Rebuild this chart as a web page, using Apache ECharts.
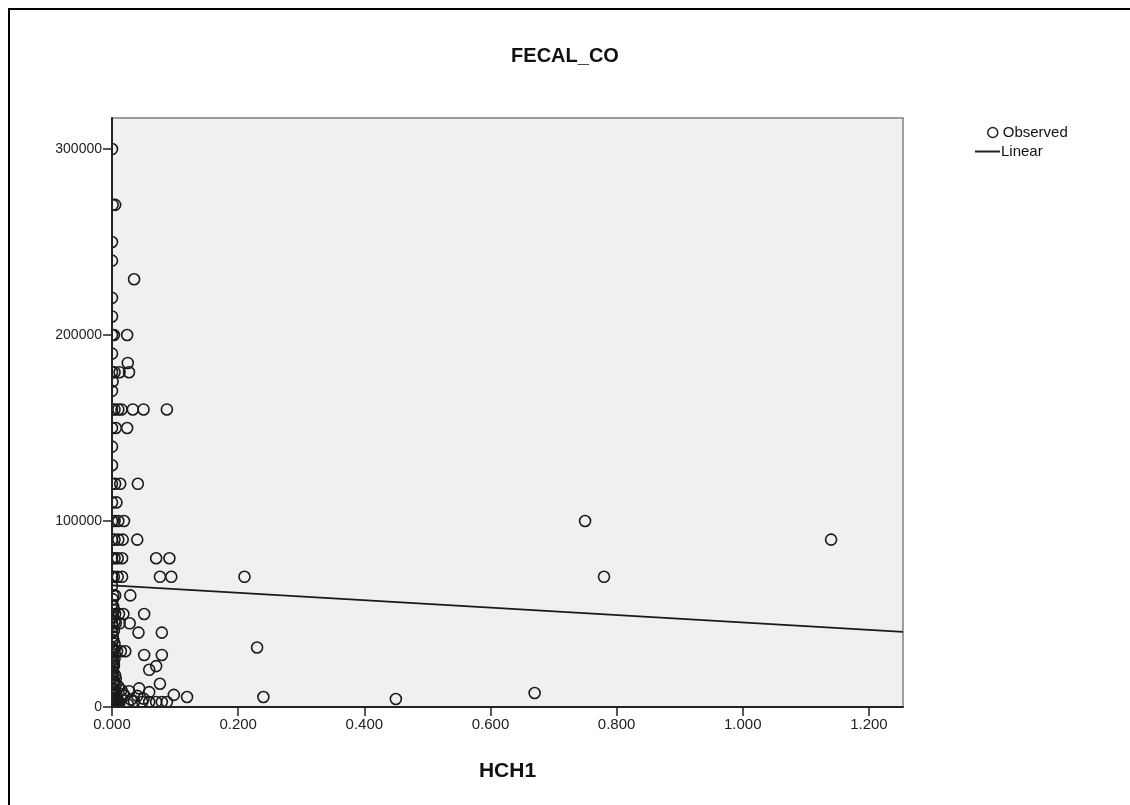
<!DOCTYPE html>
<html>
<head>
<meta charset="utf-8">
<title>FECAL_CO</title>
<script src="https://cdn.jsdelivr.net/npm/echarts@6/dist/echarts.min.js"></script>
<style>
    body {
        margin: 0;
        background: #ffffff;
    }

    #main {
        width: 1130px;
        height: 805px;
    }
</style>
</head>
<body>
<div id="main"></div>
<script>
    // observed points: HCH1 (x) and FECAL_CO (y)
    var hch1 = [
        0.000, 0.001, 0.005, 0.000, 0.000, 0.035, 0.000, 0.000, 0.000, 0.003,
        0.024, 0.000, 0.025, 0.000, 0.004, 0.012, 0.027, 0.000, 0.001, 0.000,
        0.004, 0.010, 0.015, 0.033, 0.050, 0.087, 0.000, 0.006, 0.024, 0.000,
        0.000, 0.000, 0.005, 0.013, 0.041, 0.000, 0.007, 0.000, 0.004, 0.010,
        0.019, 0.750, 0.000, 0.004, 0.010, 0.017, 0.040, 1.140, 0.000, 0.004,
        0.009, 0.016, 0.070, 0.091, 0.000, 0.003, 0.009, 0.016, 0.076, 0.094,
        0.210, 0.780, 0.000, 0.002, 0.005, 0.029, 0.000, 0.000, 0.005, 0.011,
        0.018, 0.051, 0.000, 0.006, 0.012, 0.028, 0.000, 0.042, 0.079, 0.000,
        0.002, 0.008, 0.014, 0.021, 0.051, 0.079, 0.230, 0.000, 0.003, 0.059,
        0.070, 0.000, 0.006, 0.002, 0.076, 0.010, 0.000, 0.043, 0.059, 0.004,
        0.015, 0.098, 0.119, 0.240, 0.450, 0.670, 0.000, 0.008, 0.020, 0.030,
        0.048, 0.059, 0.070, 0.079, 0.087, 0.000, 0.005, 0.012, 0.025, 0.035,
        0.000, 0.003, 0.018, 0.010, 0.027, 0.040, 0.050,
        // dense band next to the axis
        0.001, 0.002, 0.003, 0.001, 0.004, 0.002, 0.003, 0.001, 0.002, 0.004,
        0.001, 0.003, 0.002, 0.001, 0.004, 0.002, 0.003, 0.001, 0.002, 0.005,
        0.001, 0.003, 0.002, 0.006, 0.001, 0.004, 0.002, 0.007, 0.003, 0.001,
        0.002, 0.008, 0.001, 0.003, 0.002, 0.009, 0.001, 0.004, 0.002, 0.003
    ];
    var fecalCo = [
        300000, 270000, 270000, 250000, 240000, 230000, 220000, 210000, 200000, 200000,
        200000, 190000, 185000, 180000, 180000, 180000, 180000, 170000, 175000, 160000,
        160000, 160000, 160000, 160000, 160000, 160000, 150000, 150000, 150000, 140000,
        130000, 120000, 120000, 120000, 120000, 110000, 110000, 100000, 100000, 100000,
        100000, 100000, 90000, 90000, 90000, 90000, 90000, 90000, 80000, 80000,
        80000, 80000, 80000, 80000, 70000, 70000, 70000, 70000, 70000, 70000,
        70000, 70000, 65000, 60000, 60000, 60000, 55000, 50000, 50000, 50000,
        50000, 50000, 45000, 45000, 45000, 45000, 40000, 40000, 40000, 35000,
        30000, 30000, 30000, 30000, 28000, 28000, 32000, 25000, 22000, 20000,
        22000, 18000, 15000, 13000, 12500, 11000, 10000, 10000, 8000, 8000,
        9000, 6500, 5400, 5400, 4300, 7500, 5000, 5000, 6000, 4000,
        2700, 2700, 2700, 2700, 2700, 2000, 1500, 2500, 1500, 3000,
        500, 800, 7000, 3000, 8500, 6000, 4500,
        58000, 54000, 52000, 48000, 46000, 43000, 41000, 38000, 36000, 34000,
        32000, 31000, 28000, 27000, 26000, 24000, 23000, 21000, 19000, 17000,
        16000, 14000, 12000, 12000, 9500, 9500, 7500, 6500, 6000, 4000,
        3500, 3500, 2500, 1800, 1200, 1200, 700, 600, 400, 300
    ];

    // linear fit, ends
    var fitX = [0, 1.254];
    var fitY = [65400, 40400];

    var xTicks = [0, 1.254, 0.2];
    var yTicks = [0, 316700, 100000];

    var font = 'Arial, "Liberation Sans", sans-serif';

    var observed = [];
    for (var i = 0; i < hch1.length; i++) {
        observed.push([hch1[i], fecalCo[i]]);
    }
    var linear = [];
    for (var j = 0; j < fitX.length; j++) {
        linear.push([fitX[j], fitY[j]]);
    }

    var chart = echarts.init(document.getElementById('main'), null, {renderer: 'canvas'});
    chart.setOption({
        animation: false,
        backgroundColor: '#ffffff',
        title: {
            text: 'FECAL_CO',
            left: 'center',
            top: 41,
            textStyle: {
                fontFamily: font,
                fontSize: 20,
                fontWeight: 'bold',
                color: '#111'
            }
        },
        legend: [
            {
                data: [{name: 'Observed', icon: 'circle'}],
                left: 982,
                top: 120,
                itemWidth: 10,
                itemHeight: 10,
                itemStyle: {color: 'rgba(0,0,0,0)', borderColor: '#222', borderWidth: 1.5},
                textStyle: {fontFamily: font, fontSize: 15, color: '#111'}
            },
            {
                data: [{name: 'Linear', icon: 'rect'}],
                left: 970,
                top: 139,
                itemWidth: 25,
                itemHeight: 2,
                itemGap: 0,
                itemStyle: {color: '#222'},
                textStyle: {fontFamily: font, fontSize: 15, color: '#111', padding: [0, 0, 0, -4]}
            }
        ],
        grid: {
            left: 112,
            top: 118,
            right: 227,
            bottom: 98,
            show: true,
            backgroundColor: '#f0f0f0',
            borderColor: '#808080',
            borderWidth: 1.5
        },
        xAxis: {
            type: 'value',
            min: xTicks[0],
            max: xTicks[1],
            interval: xTicks[2],
            z: 10,
            name: 'HCH1',
            nameLocation: 'middle',
            nameGap: 54,
            nameTextStyle: {fontFamily: font, fontSize: 21, fontWeight: 'bold', color: '#111'},
            axisLine: {lineStyle: {color: '#222', width: 2}},
            axisTick: {length: 9, lineStyle: {color: '#222', width: 1.5}},
            axisLabel: {
                showMaxLabel: false,
                margin: 10,
                fontFamily: font,
                fontSize: 15,
                color: '#222',
                formatter: function (v) { return v.toFixed(3); }
            },
            splitLine: {show: false}
        },
        yAxis: {
            type: 'value',
            min: yTicks[0],
            max: yTicks[1],
            interval: yTicks[2],
            z: 10,
            axisLine: {lineStyle: {color: '#222', width: 2}},
            axisTick: {length: 9, lineStyle: {color: '#222', width: 1.5}},
            axisLabel: {
                showMaxLabel: false,
                margin: 10,
                fontFamily: font,
                fontSize: 14,
                color: '#222',
                formatter: function (v) { return String(v); }
            },
            splitLine: {show: false}
        },
        graphic: [
            // hide the parts of circles that fall outside the plot
            {type: 'rect', z: 5, shape: {x: 96, y: 110, width: 15, height: 605}, style: {fill: '#ffffff'}},
            {type: 'rect', z: 5, shape: {x: 96, y: 708, width: 812, height: 8}, style: {fill: '#ffffff'}},
            // outer frame
            {type: 'rect', z: 20, shape: {x: 9, y: 9, width: 1140, height: 820}, style: {fill: null, stroke: '#000', lineWidth: 2}}
        ],
        series: [
            {
                name: 'Observed',
                type: 'scatter',
                symbol: 'circle',
                symbolSize: 11,
                z: 2,
                itemStyle: {color: 'rgba(0,0,0,0)', borderColor: '#1a1a1a', borderWidth: 1.6, opacity: 1},
                data: observed
            },
            {
                name: 'Linear',
                type: 'line',
                symbol: 'none',
                z: 3,
                lineStyle: {color: '#1a1a1a', width: 1.8},
                data: linear
            }
        ]
    });
</script>
</body>
</html>
